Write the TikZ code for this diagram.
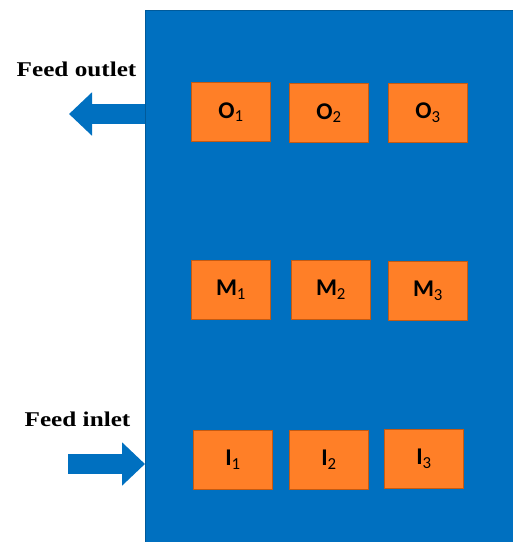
\documentclass[tikz,border=0pt]{standalone}
\usepackage{fontspec}
\setmainfont{Liberation Serif}[FakeStretch=1.2]
\newfontfamily\cellfont{Carlito}
\usepackage{tikz}
\usetikzlibrary{arrows.meta, positioning}

\definecolor{tankblue}{HTML}{0070C0}
\definecolor{cellorange}{HTML}{FF7F27}
\definecolor{celledge}{HTML}{C55A11}

\newcommand{\sub}[1]{\textsubscript{\mdseries #1}}

\begin{document}
\begin{tikzpicture}[x=1pt, y=-1pt,
	tank/.style={draw=tankblue!80!black, line width=0.6pt, fill=tankblue, anchor=north west, inner sep=0pt, minimum width=368pt, minimum height=532pt},
	cell/.style={draw=celledge, line width=0.6pt, fill=cellorange, minimum width=79pt, minimum height=59pt, inner sep=0pt, font=\cellfont\fontsize{24}{28}\selectfont\bfseries},
	label/.style={font=\fontsize{21}{24}\selectfont\bfseries, anchor=base, inner sep=0pt},
	flow/.style={draw=tankblue, line width=20pt, -{Triangle[length=23pt, width=42pt]}}]

	\useasboundingbox (0,0) rectangle (513,542);

	\node [tank] (T) at (145,10) {};

	% outlet row
	\node [cell] (O1) at (231,112) {O\sub{1}};
	\node [cell] (O2) at (329,113) {O\sub{2}};
	\node [cell] (O3) at (428,113) {O\sub{3}};

	% middle row
	\node [cell] (M1) at (231,290) {M\sub{1}};
	\node [cell] (M2) at (331,290) {M\sub{2}};
	\node [cell] (M3) at (428,291) {M\sub{3}};

	% inlet row
	\node [cell] (I1) at (233,460) {I\sub{1}};
	\node [cell] (I2) at (329,460) {I\sub{2}};
	\node [cell] (I3) at (424,459) {I\sub{3}};

	\coordinate (out) at (69,114);
	\coordinate (in) at (68,464);

	\draw [flow] (T.west |- out) -- (out);
	\draw [flow] (in) -- (T.west |- in);

	\node [label] (outlabel) at (76.5,76) {Feed outlet};
	\node [label] (inlabel) at (77.5,426.5) {Feed inlet};

\end{tikzpicture}
\end{document}
